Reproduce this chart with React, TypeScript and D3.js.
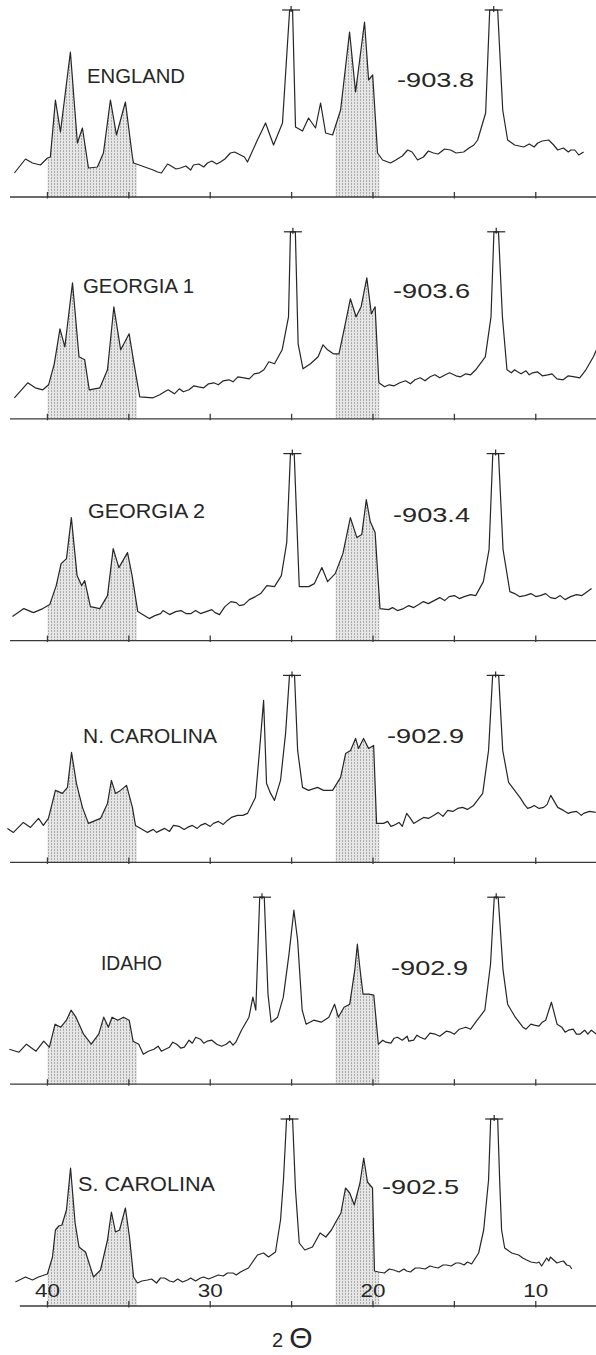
import React from "react";
import * as d3 from "d3";

type Pt = [number, number];

// 2-theta ticks & labels
const tickValues = [40, 35, 30, 25, 20, 15, 10];
const tickLabels = [40, 30, 20, 10];
const shadeRanges: [number, number][] = [
  [40, 34.5],
  [22.3, 19.6],
];
const sampleNames = ["ENGLAND", "GEORGIA 1", "GEORGIA 2", "N. CAROLINA", "IDAHO", "S. CAROLINA"];
const sampleValues = ["-903.8", "-903.6", "-903.4", "-902.9", "-902.9", "-902.5"];
const OFFSCALE = 187;

const england: Pt[] = [[42.03,24],[41.35,38],[40.92,34],[40.43,32],[40.0,39],[39.82,40],[39.51,97],[39.2,65],[38.59,145],[38.16,54],[37.85,69],[37.48,29],[36.93,30],[36.56,44],[36.13,97],[35.76,62],[35.21,95],[34.78,40],[34.71,34],[33.85,29],[33.24,25],[32.62,33],[31.83,29],[31.03,32],[30.17,34],[29.37,35],[28.76,44],[28.14,42],[27.71,35],[27.1,57],[26.6,74],[26.11,52],[25.56,74],[25.25,154],[25.12,187],[24.94,187],[24.76,70],[24.33,66],[23.96,79],[23.53,69],[23.22,94],[22.91,64],[22.48,62],[21.99,87],[21.44,165],[21.07,105],[20.52,175],[20.27,117],[20.02,122],[19.72,44],[19.41,37],[18.92,34],[17.87,47],[17.26,37],[16.28,44],[15.23,47],[14.43,45],[13.57,57],[13.08,84],[12.83,187],[12.34,187],[12.03,87],[11.73,57],[10.74,50],[9.88,54],[9.21,57],[8.65,47],[7.85,47],[7.36,42],[7.06,45],
  [33.5,27],[33.0,24],[32.4,31],[32.1,28],[31.5,31],[31.2,27],[30.7,33],[30.4,30],[29.9,36],[29.6,33],[29.1,38],[28.5,45],[27.9,40],
  [18.6,37],[18.2,41],[17.6,45],[16.9,40],[16.6,46],[16.0,43],[15.6,48],[14.9,44],[14.1,49],[13.8,52],
  [11.3,52],[10.4,53],[10.1,50],[9.6,56],[8.9,52],[8.3,49],[8.0,45],[7.6,47]];

const georgia1: Pt[] = [[42.03,21],[41.21,36],[40.75,31],[40.28,29],[39.93,34],[39.58,55],[39.23,90],[38.93,72],[38.46,136],[38.06,62],[37.71,59],[37.43,29],[36.78,31],[36.31,49],[35.92,112],[35.5,69],[34.98,85],[34.68,55],[34.33,22],[33.51,21],[32.58,29],[31.65,27],[30.72,32],[29.78,36],[28.85,39],[27.92,41],[26.98,46],[26.4,57],[26.05,55],[25.58,69],[25.19,102],[25.07,187],[24.77,187],[24.6,75],[24.3,50],[23.84,55],[23.37,62],[23.07,74],[22.79,69],[22.44,65],[22.09,65],[21.74,92],[21.39,120],[21.04,102],[20.73,112],[20.38,141],[20.1,105],[19.87,112],[19.64,36],[19.29,32],[18.35,36],[17.42,39],[16.49,42],[15.55,44],[14.62,42],[13.69,49],[13.1,62],[12.75,102],[12.57,187],[12.29,187],[12.05,102],[11.77,49],[11.12,47],[10.19,46],[9.26,44],[8.32,39],[7.62,42],[6.92,49],[6.46,62],[6.27,69],
  [33.1,24],[32.8,27],[32.2,25],[31.9,30],[31.3,29],[31.0,33],[30.4,31],[30.1,35],[29.5,34],[29.2,38],[28.6,37],[28.3,42],[27.6,40],[27.3,45],[26.7,49],
  [19.0,34],[18.7,33],[18.0,38],[17.7,35],[17.1,41],[16.8,38],[16.2,44],[15.9,41],[15.3,46],[14.9,43],[14.3,45],[14.0,44],
  [11.5,46],[11.3,49],[10.9,45],[10.6,48],[10.4,44],[9.9,47],[9.6,43],[9.0,45],[8.7,40],[8.0,43],[7.3,41]];

const georgia2: Pt[] = [[42.15,24],[41.45,32],[40.86,28],[40.28,32],[39.86,36],[39.46,55],[39.16,77],[38.83,82],[38.53,123],[38.18,65],[37.9,55],[37.71,60],[37.36,34],[36.78,32],[36.31,45],[35.96,92],[35.61,73],[35.08,88],[34.8,65],[34.45,29],[33.75,22],[33.05,27],[32.12,29],[31.18,27],[30.25,29],[29.43,26],[28.73,39],[27.92,36],[27.22,44],[26.52,55],[26.05,54],[25.63,65],[25.3,98],[25.07,187],[24.84,187],[24.53,54],[23.95,54],[23.6,57],[23.14,73],[22.79,59],[22.32,67],[21.85,87],[21.39,123],[20.99,103],[20.69,106],[20.41,141],[20.17,119],[19.87,108],[19.57,32],[19.05,31],[18.12,32],[17.19,36],[16.25,40],[15.32,44],[14.39,44],[13.69,45],[13.22,59],[12.87,91],[12.64,187],[12.29,187],[12.01,91],[11.59,49],[10.66,45],[9.72,45],[8.79,42],[7.86,44],[7.16,45],[6.57,52],
  [33.4,25],[32.9,30],[32.5,26],[31.8,30],[31.5,27],[30.9,30],[30.6,27],[29.9,31],[29.7,28],[29.1,34],[28.4,38],[28.2,35],[27.6,41],[26.9,47],
  [18.8,33],[18.5,30],[17.8,35],[17.5,33],[16.9,39],[16.6,37],[15.9,43],[15.6,40],[15.0,45],[14.7,42],[14.0,46],
  [11.3,47],[11.0,44],[10.3,47],[10.0,44],[9.4,47],[9.1,43],[8.5,45],[8.2,41],[7.5,46]];

const nCarolina: Pt[] = [[42.46,34],[42.09,30],[41.48,40],[41.04,35],[40.55,44],[40.25,37],[39.94,44],[39.51,72],[39.08,69],[38.77,75],[38.52,110],[38.22,79],[37.85,55],[37.48,39],[36.74,44],[36.31,59],[36.07,82],[35.82,69],[35.51,72],[35.14,77],[34.78,55],[34.59,37],[33.85,30],[33.05,32],[32.26,37],[31.4,35],[30.6,37],[29.8,39],[28.94,42],[28.32,47],[27.71,49],[27.22,65],[26.97,112],[26.72,162],[26.54,79],[26.29,69],[26.05,62],[25.68,82],[25.37,129],[25.13,187],[24.82,187],[24.63,112],[24.33,75],[23.96,72],[23.41,75],[23.04,72],[22.48,72],[21.99,85],[21.68,109],[21.38,112],[21.07,124],[20.89,114],[20.58,124],[20.27,114],[19.96,117],[19.78,39],[19.35,39],[18.73,37],[17.93,49],[17.5,39],[16.89,45],[16.28,47],[15.41,52],[14.8,54],[13.82,57],[13.26,69],[12.9,112],[12.65,187],[12.28,187],[12.03,112],[11.67,80],[10.93,64],[10.31,55],[9.51,55],[9.08,67],[8.65,55],[7.85,50],[7.06,49],[6.32,50],
  [33.5,33],[33.3,30],[32.8,34],[32.5,31],[31.9,36],[31.6,33],[31.1,37],[30.8,34],[30.3,39],[30.0,36],[29.5,41],[29.2,38],[28.7,45],[28.0,47],
  [19.1,41],[18.9,36],[18.4,40],[18.2,36],[17.7,44],[17.2,42],[16.6,44],[16.0,50],[15.7,46],[15.1,51],[14.5,55],[14.2,53],
  [10.7,58],[10.5,54],[10.1,57],[9.8,54],[9.3,58],[8.3,52],[8.0,49],[7.5,51],[7.2,47],[6.7,51]];

const idaho: Pt[] = [[42.34,35],[41.75,32],[41.29,40],[40.7,33],[40.23,43],[39.88,37],[39.53,60],[39.18,57],[38.83,64],[38.55,74],[38.25,67],[37.78,50],[37.31,40],[36.85,50],[36.54,67],[36.26,57],[36.03,67],[35.68,64],[35.33,67],[34.98,64],[34.74,43],[34.39,40],[34.11,30],[33.46,35],[32.76,35],[32.06,40],[31.59,37],[30.89,47],[30.19,43],[29.6,40],[29.02,40],[28.43,42],[28.08,54],[27.62,67],[27.38,87],[27.2,74],[26.96,187],[26.68,187],[26.45,90],[26.26,62],[25.86,67],[25.51,87],[25.16,130],[24.86,174],[24.63,144],[24.35,74],[24.11,60],[23.64,64],[23.18,62],[22.71,67],[22.36,80],[22.13,67],[21.78,77],[21.43,80],[21.12,114],[20.96,140],[20.79,114],[20.61,90],[20.26,90],[19.95,89],[19.67,40],[19.21,42],[18.5,47],[17.8,43],[17.1,47],[16.17,50],[15.23,52],[14.3,57],[13.6,64],[13.13,74],[12.78,120],[12.55,187],[12.31,187],[12.01,114],[11.73,80],[11.26,67],[10.79,57],[10.09,59],[9.39,64],[9.04,82],[8.69,60],[7.99,54],[7.29,50],[6.59,54],[6.17,49],
  [33.8,33],[33.2,38],[33.0,33],[32.5,37],[32.3,42],[31.8,36],[31.3,44],[31.1,41],[30.6,45],[30.4,41],[29.9,44],[29.3,38],[28.8,43],[28.6,39],
  [19.4,44],[18.9,41],[18.7,46],[18.2,44],[17.9,48],[17.5,44],[17.3,49],[16.8,45],[16.5,51],[15.9,48],[15.5,53],[15.0,50],[14.7,55],[14.0,55],
  [10.6,55],[10.3,60],[9.8,58],[9.6,62],[8.4,57],[8.2,52],[7.7,55],[7.5,50],[7.0,54],[6.8,50]];

const sCarolina: Pt[] = [[41.97,24],[41.35,29],[40.92,26],[40.55,29],[40.0,32],[39.69,49],[39.51,76],[39.3,80],[39.11,81],[38.83,96],[38.58,138],[38.3,83],[38.06,59],[37.83,56],[37.66,54],[37.17,29],[36.74,36],[36.31,66],[36.07,94],[35.82,74],[35.57,76],[35.21,98],[34.96,69],[34.71,29],[34.47,23],[33.85,26],[33.05,28],[32.26,24],[31.4,26],[30.6,28],[29.8,29],[28.94,33],[28.14,34],[27.65,38],[27.1,51],[26.72,53],[26.42,49],[25.99,54],[25.68,86],[25.5,126],[25.31,187],[24.94,187],[24.76,116],[24.53,63],[24.19,56],[23.72,59],[23.25,73],[22.9,69],[22.55,76],[22.32,83],[21.97,93],[21.69,118],[21.43,113],[21.15,101],[20.8,123],[20.57,148],[20.34,124],[20.03,118],[19.91,35],[19.66,34],[18.73,36],[17.93,35],[17.13,38],[16.28,39],[15.48,41],[14.68,43],[13.94,42],[13.51,53],[13.2,76],[12.9,126],[12.77,187],[12.34,187],[12.22,126],[12.1,76],[11.91,58],[11.48,53],[11.05,51],[10.56,46],[9.94,43],[9.64,40],[9.33,48],[8.9,46],[8.53,44],[8.1,41],[7.79,37],
  [34.2,25],[33.6,27],[33.3,23],[32.8,28],[32.5,25],[32.0,27],[31.7,24],[31.2,28],[30.9,25],[30.4,29],[30.1,27],[29.5,31],[29.2,30],[28.6,33],[28.4,31],[27.9,36],
  [19.3,33],[19.0,37],[18.4,34],[18.1,37],[17.7,34],[17.4,38],[16.8,37],[16.5,40],[16.0,38],[15.7,41],[15.2,40],[14.9,43],[14.4,41],[14.2,44],
  [10.8,48],[10.3,44],[9.8,44],[9.2,45],[9.1,49],[8.7,43],[8.3,45],[7.9,40]];

const traces = [england, georgia1, georgia2, nCarolina, idaho, sCarolina].map((t) =>
  t.slice().sort((a, b) => b[0] - a[0])
);

// layout
const W = 596;
const H = 1355;
const AXIS_TOP = 197;
const AXIS_STEP = 221.8;
const nameLayout: [number, number, number][] = [
  [87, 114, 98], [83, 126, 111], [88, 123, 117], [83, 119, 134], [101, 114, 61], [78, 115, 137],
];
const valueLayout: [number, number][] = [
  [397, 110], [393, 121], [393, 119], [387, 119], [391, 109], [382, 112],
];

const x = d3.scaleLinear().domain([42.3, 6.3]).range([10, W]);

function interp(data: Pt[], t: number): number {
  for (let i = 0; i < data.length - 1; i++) {
    const a = data[i], b = data[i + 1];
    if ((a[0] - t) * (b[0] - t) <= 0) {
      const f = a[0] === b[0] ? 0 : (t - a[0]) / (b[0] - a[0]);
      return a[1] + f * (b[1] - a[1]);
    }
  }
  return data[data.length - 1][1];
}

function shadePoints(data: Pt[], hi: number, lo: number): Pt[] {
  const pts: Pt[] = [[hi, interp(data, hi)]];
  data.forEach((d) => { if (d[0] < hi && d[0] > lo) pts.push(d); });
  pts.push([lo, interp(data, lo)]);
  return pts;
}

function offscaleCenters(data: Pt[]): number[] {
  const res: number[] = [];
  let i = 0;
  while (i < data.length) {
    if (data[i][1] >= OFFSCALE) {
      let j = i;
      while (j + 1 < data.length && data[j + 1][1] >= OFFSCALE) j++;
      res.push((data[i][0] + data[j][0]) / 2);
      i = j + 1;
    } else i++;
  }
  return res;
}

const ink = "#262626";
const font = "'Liberation Sans', Arial, Helvetica, sans-serif";

function Panel({ idx }: { idx: number }) {
  const data = traces[idx];
  const axisY = AXIS_TOP + idx * AXIS_STEP;
  const y = d3.scaleLinear().domain([0, OFFSCALE]).range([axisY, axisY - OFFSCALE]);
  const line = d3.line<Pt>().x((d) => x(d[0])).y((d) => y(Math.min(d[1], OFFSCALE)));
  const area = d3.area<Pt>().x((d) => x(d[0])).y0(y(0)).y1((d) => y(Math.min(d[1], OFFSCALE)));
  const isBottom = idx === traces.length - 1;
  const axisStart = isBottom ? 41.7 : 42.3;
  const [nx, ndy, nw] = nameLayout[idx];
  const [vx, vdy] = valueLayout[idx];
  return (
    <g>
      {shadeRanges.map(([hi, lo], k) => (
        <path key={k} d={area(shadePoints(data, hi, lo)) || ""} fill="url(#stipple)" stroke="none" />
      ))}
      <line x1={x(axisStart)} x2={W} y1={axisY} y2={axisY} stroke="#3a3a3a" strokeWidth={1.3} />
      {tickValues.map((t) => (
        <line key={t} x1={x(t)} x2={x(t)} y1={axisY - 5} y2={axisY + 1.5} stroke="#3a3a3a" strokeWidth={1.3} />
      ))}
      <path d={line(data) || ""} fill="none" stroke={ink} strokeWidth={1.2} strokeLinejoin="round" />
      {offscaleCenters(data).map((c, k) => (
        <g key={k} stroke={ink} strokeWidth={1.2}>
          <line x1={x(c) - 9} x2={x(c) + 9} y1={y(OFFSCALE)} y2={y(OFFSCALE)} />
          <line x1={x(c)} x2={x(c)} y1={y(OFFSCALE) - 4} y2={y(OFFSCALE) + 2} />
        </g>
      ))}
      <text x={nx} y={axisY - ndy} fontFamily={font} fontSize={20} fill={ink}
        textLength={nw} lengthAdjust="spacingAndGlyphs">{sampleNames[idx]}</text>
      <text x={vx} y={axisY - vdy} fontFamily={font} fontSize={21} fill={ink}
        textLength={77} lengthAdjust="spacingAndGlyphs">{sampleValues[idx]}</text>
      {isBottom && tickLabels.map((t) => (
        <text key={t} x={x(t)} y={axisY - 9} textAnchor="middle" fontFamily={font} fontSize={18}
          fill={ink} textLength={25} lengthAdjust="spacingAndGlyphs">{t}</text>
      ))}
      {isBottom && (
        <g>
          <text x={272} y={axisY + 41} fontFamily={font} fontSize={20} fill={ink}>2</text>
          <text x={301} y={axisY + 42} textAnchor="middle"
            fontFamily={font} fontSize={30} fill={ink}>Θ</text>
        </g>
      )}
    </g>
  );
}

export default function App() {
  return (
    <svg width={W} height={H} viewBox={`0 0 ${W} ${H}`}
      style={{ position: "absolute", left: 0, top: 0, background: "#ffffff", display: "block" }}>
      <defs>
        <pattern id="stipple" width={3} height={3} patternUnits="userSpaceOnUse">
          <rect width={3} height={3} fill="#e6e6e6" />
          <rect x={0} y={0} width={1} height={2} fill="#acacac" />
        </pattern>
      </defs>
      <rect width={W} height={H} fill="#ffffff" />
      {traces.map((_, i) => <Panel key={i} idx={i} />)}
    </svg>
  );
}
